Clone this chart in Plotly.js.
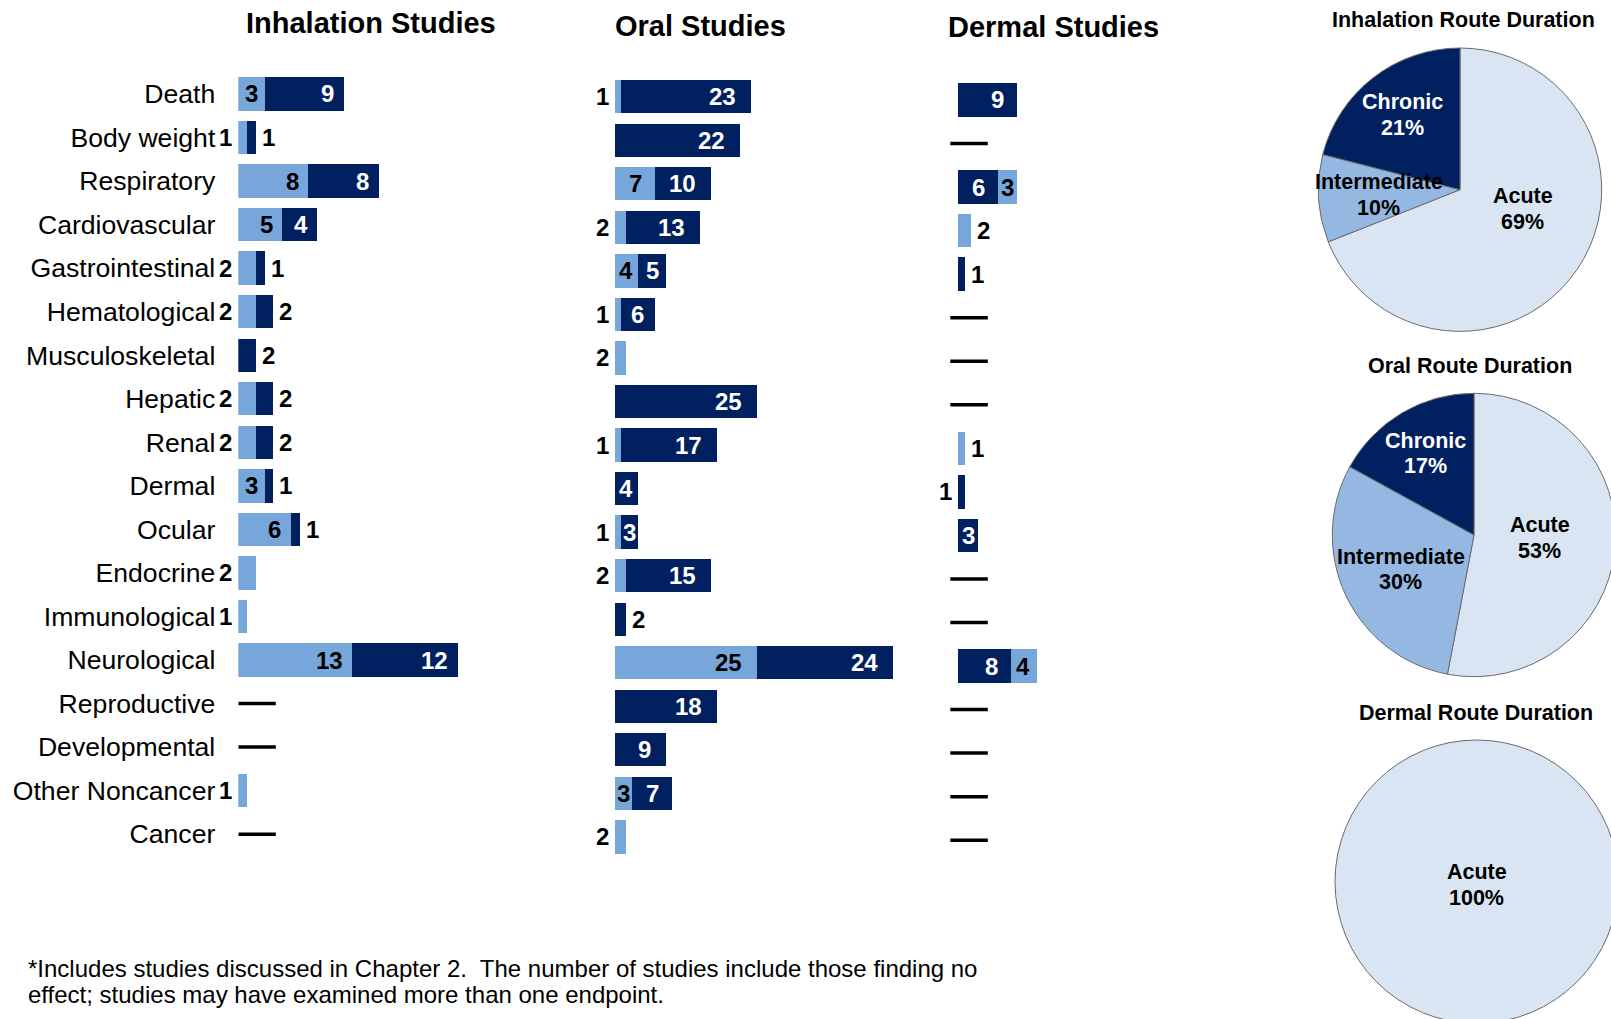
<!DOCTYPE html>
<html><head><meta charset="utf-8">
<script src="https://cdn.plot.ly/plotly-3.0.1.min.js"></script>
<style>html,body{margin:0;padding:0;overflow:hidden;background:#fff}</style>
</head><body><div id="chart" style="width:1640px;height:1040px"></div>
<script>
// ---------------- DATA ----------------
const categories = ['Death','Body weight','Respiratory','Cardiovascular','Gastrointestinal','Hematological','Musculoskeletal','Hepatic','Renal','Dermal','Ocular','Endocrine','Immunological','Neurological','Reproductive','Developmental','Other Noncancer','Cancer'];
const inhalationLight = [3,1,8,5,2,2,0,2,2,3,6,2,1,13,0,0,1,0];
const inhalationDark  = [9,1,8,4,1,2,2,2,2,1,1,0,0,12,0,0,0,0];
const oralLight = [1,0,7,2,4,1,2,0,1,0,1,2,0,25,0,0,3,2];
const oralDark  = [23,22,10,13,5,6,0,25,17,4,3,15,2,24,18,9,7,0];
const dermalDark  = [9,0,6,0,1,0,0,0,0,1,3,0,0,8,0,0,0,0];
const dermalLight = [0,0,3,2,0,0,0,0,1,0,0,0,0,4,0,0,0,0];
const panelTitles = ['Inhalation Studies','Oral Studies','Dermal Studies'];
const durationLabels = ['Acute','Intermediate','Chronic'];
const inhalationDurationPct = [69,10,21];
const oralDurationPct = [53,30,17];
const dermalDurationPct = [100,0,0];
const pieTitles = ['Inhalation Route Duration','Oral Route Duration','Dermal Route Duration'];
const footnoteLines = ['*Includes studies discussed in Chapter 2.\u00a0 The number of studies include those finding no',
                       'effect; studies may have examined more than one endpoint.'];

// ---------------- STYLE ----------------
const W = 1640, H = 1040;
const FONT = 'Liberation Sans, Arial, sans-serif';
const LIGHT = '#77A6DB', DARK = '#002060';
const ROW = 43.54;
const DASH_LEN = 37.5;
const VAL_SIZE = 24, DIGIT_W = 0.556 * VAL_SIZE;
const dermalLeftRows = ['Dermal'];
const panels = [
  {ax:'', series:[{v:inhalationLight,c:LIGHT},{v:inhalationDark,c:DARK}], origin:238.3, ppu:8.77, end:590, top:72.23, neg:0, cap:9.5, dashStart:0, titleXY:[370.6,22.6], ticks:true, sideRule:'color'},
  {ax:'2', series:[{v:oralLight,c:LIGHT},{v:oralDark,c:DARK}], origin:615, ppu:5.667, end:935, top:74.93, neg:0, cap:15, dashStart:0, titleXY:[700.6,25.7], ticks:false, sideRule:'color'},
  {ax:'3', series:[{v:dermalDark,c:DARK},{v:dermalLight,c:LIGHT}], origin:958.3, ppu:6.55, end:1250, top:78.23, neg:12, cap:13, dashStart:-8, titleXY:[1053,26.7], ticks:false, sideRule:'right'}
];
const pieColors = {Acute:'#DAE5F3', Intermediate:'#95B8E3', Chronic:'#002060'};
const pieTextColor = {Acute:'#000', Intermediate:'#000', Chronic:'#fff'};
const pieLabelFrac = {Acute:0.465, Intermediate:0.573, Chronic:0.667};
const PIE_LINE = 25.7, PIE_FONT = 21.5;
const pieGeo = [{vals:inhalationDurationPct, cx:1460, cy:189.7, title:[1463.5,20]},
                {vals:oralDurationPct, cx:1474, cy:535, title:[1469.7,366]},
                {vals:dermalDurationPct, cx:1476.7, cy:881.7, title:[1476,713]}];
const PIE_R = 141.7;

const px = x => x / W, py = y => 1 - y / H;
const traces = [], annotations = [], shapes = [];
const layout = {
  width: W, height: H, margin:{l:0,r:0,t:0,b:0}, paper_bgcolor:'#fff', plot_bgcolor:'rgba(0,0,0,0)',
  barmode:'stack', bargap:0.234, showlegend:false, font:{family:FONT, color:'#000'}
};
const idx = categories.map((_, i) => i);

panels.forEach((p, pi) => {
  const xa = 'x' + p.ax, ya = 'y' + p.ax;
  const xKey = 'xaxis' + p.ax, yKey = 'yaxis' + p.ax;
  layout[xKey] = {domain:[px(p.origin - p.neg), px(p.end)], range:[-p.neg / p.ppu, (p.end - p.origin) / p.ppu],
    showgrid:false, zeroline:false, showline:false, showticklabels:false, ticks:'', anchor:ya, fixedrange:true};
  layout[yKey] = {domain:[py(p.top + categories.length * ROW), py(p.top)], range:[categories.length - 0.5, -0.5],
    showgrid:false, zeroline:false, showline:false, ticks:'', anchor:xa, fixedrange:true,
    tickvals: idx, ticktext: categories, showticklabels: p.ticks, ticklabelstandoff: 22,
    tickfont:{family:FONT, size:26.6, color:'#000'}};
  p.series.forEach(s => {
    traces.push({type:'bar', orientation:'h', x:s.v, y:idx, xaxis:xa, yaxis:ya,
      marker:{color:s.c, line:{width:0}}, hoverinfo:'skip'});
  });
  annotations.push({text:'<b>' + panelTitles[pi] + '</b>', xref:'paper', yref:'paper', x:px(p.titleXY[0]), y:py(p.titleXY[1]),
    xanchor:'center', yanchor:'middle', showarrow:false, font:{family:FONT, size:29, color:'#000'}});
  categories.forEach((cat, i) => {
    let cum = 0;
    const total = p.series.reduce((a, s) => a + s.v[i], 0);
    if (total === 0) {
      shapes.push({type:'line', xref:xa, yref:ya, x0:p.dashStart / p.ppu, x1:(p.dashStart + DASH_LEN) / p.ppu,
        y0:i, y1:i, line:{color:'#000', width:3.5}});
      return;
    }
    p.series.forEach(s => {
      const v = s.v[i];
      if (!v) return;
      cum += v;
      const fg = s.c === DARK ? '#fff' : '#000';
      if (v >= 3) {
        const w = v * p.ppu, tw = String(v).length * DIGIT_W;
        const pad = Math.max(0, Math.min(p.cap, (w - tw) / 2));
        annotations.push({text:'<b>' + v + '</b>', xref:xa, yref:ya, x:cum, y:i, xanchor:'right', yanchor:'middle',
          xshift:-(pad - 2), showarrow:false, font:{family:FONT, size:VAL_SIZE, color:fg}});
      } else {
        let side;
        if (p.sideRule === 'color') side = s.c === LIGHT ? 'left' : 'right';
        else side = dermalLeftRows.includes(cat) ? 'left' : 'right';
        if (side === 'left') {
          annotations.push({text:'<b>' + v + '</b>', xref:xa, yref:ya, x:0, y:i, xanchor:'right', yanchor:'middle',
            xshift:-4, showarrow:false, font:{family:FONT, size:VAL_SIZE, color:'#000'}});
        } else {
          annotations.push({text:'<b>' + v + '</b>', xref:xa, yref:ya, x:total, y:i, xanchor:'left', yanchor:'middle',
            xshift:4, showarrow:false, font:{family:FONT, size:VAL_SIZE, color:'#000'}});
        }
      }
    });
  });
});

// pies
pieGeo.forEach((g, k) => {
  const labs = [], vals = [];
  g.vals.forEach((v, j) => { if (v > 0) { labs.push(durationLabels[j]); vals.push(v); } });
  traces.push({type:'pie', labels:labs, values:vals, sort:false, direction:'clockwise', rotation:0,
    textinfo:'none', hoverinfo:'skip', showlegend:false,
    marker:{colors:labs.map(l => pieColors[l]), line:{color:'#6b6b6b', width:1}},
    domain:{x:[px(g.cx - PIE_R), px(g.cx + PIE_R)], y:[py(g.cy + PIE_R), py(g.cy - PIE_R)]}});
  const tot = vals.reduce((a, b) => a + b, 0);
  let cum = 0;
  vals.forEach((v, j) => {
    let mid = (cum + v / 2) / tot * 360; cum += v;
    // large slices: label pulled halfway toward the horizontal
    if (v / tot > 0.5 && v / tot < 1) mid = mid - (mid - 90) * 0.5;
    const a = mid * Math.PI / 180;
    const f = vals.length === 1 ? 0 : pieLabelFrac[labs[j]];
    const x = g.cx + f * PIE_R * Math.sin(a), y = g.cy - f * PIE_R * Math.cos(a) + (vals.length === 1 ? 3 : 0);
    [labs[j], v + '%'].forEach((line, li) => {
      annotations.push({text:'<b>' + line + '</b>', xref:'paper', yref:'paper', x:px(x), y:py(y + (li - 0.5) * PIE_LINE),
        xanchor:'center', yanchor:'middle', showarrow:false, font:{family:FONT, size:PIE_FONT, color:pieTextColor[labs[j]]}});
    });
  });
  annotations.push({text:'<b>' + pieTitles[k] + '</b>', xref:'paper', yref:'paper', x:px(g.title[0]), y:py(g.title[1]),
    xanchor:'center', yanchor:'middle', showarrow:false, font:{family:FONT, size:21.5, color:'#000'}});
});

// footnote
footnoteLines.forEach((t, k) => {
  annotations.push({text:t, xref:'paper', yref:'paper', x:px(25.5), y:py(968 + k * 26.5), xanchor:'left', yanchor:'middle',
    showarrow:false, font:{family:FONT, size:24, color:'#000'}});
});

layout.annotations = annotations;
layout.shapes = shapes;
Plotly.newPlot('chart', traces, layout, {staticPlot:true, displayModeBar:false});
</script></body></html>
